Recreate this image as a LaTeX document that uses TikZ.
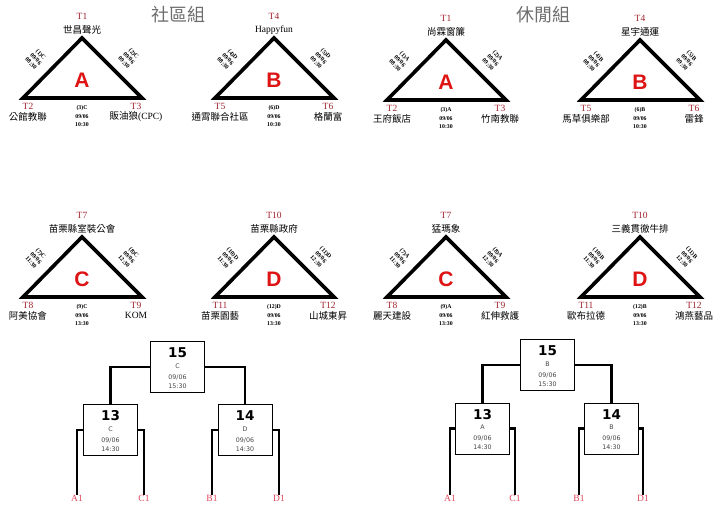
\documentclass[tikz,border=0pt]{standalone}
\usepackage{fontspec}
\setmainfont{Liberation Serif}
\newfontfamily\cjk{Noto Sans CJK TC}
\newfontfamily\boxf{DejaVu Sans}
\newfontfamily\bigf{Liberation Sans}
\usetikzlibrary{calc}
\definecolor{tred}{RGB}{160,35,45}
\definecolor{gred}{RGB}{222,20,20}
\definecolor{lred}{RGB}{225,70,90}
\definecolor{ttl}{RGB}{110,110,110}
\definecolor{sgray}{RGB}{70,70,70}
\tikzset{
  triline/.style={line width=3.6pt},
  tlab/.style={font=\fontsize{9.5}{9.5}\selectfont, text=tred, inner sep=0pt},
  nlab/.style={font=\cjk\fontsize{9.5}{9.5}\selectfont, inner sep=0pt},
  glet/.style={font=\bigf\bfseries\fontsize{21}{21}\selectfont, text=gred, inner sep=0pt},
  elab/.style={font=\bfseries\fontsize{6}{6.6}\selectfont, align=center, inner sep=0pt, rotate=-48},
  blab/.style={font=\bfseries\fontsize{5.8}{8.5}\selectfont, align=center, inner sep=0pt},
  ttlab/.style={font=\cjk\fontsize{18}{18}\selectfont, text=ttl, inner sep=0pt},
  mbox/.style={draw, line width=1pt, minimum width=54pt, minimum height=51pt, inner sep=0pt},
  bnum/.style={font=\boxf\bfseries\fontsize{13.5}{13.5}\selectfont, inner sep=0pt},
  bsm/.style={font=\boxf\fontsize{6.3}{6.3}\selectfont, text=sgray, inner sep=0pt},
  conn/.style={line width=2.3pt},
  leaf/.style={font=\fontsize{9.5}{9.5}\selectfont, text=lred, inner sep=0pt}
}
\newcommand{\mytri}[4]{%
  \draw[triline] ({#2},{#3}) -- ({#2-59},{#3+60}) -- ({#2+60},{#3+60}) -- cycle;
  \node[glet] (#1g) at ({#2},{#3+42}) {#4};}
\newcommand{\toplab}[5]{%
  \node[tlab] (#1tt) at ({#2},{#3-22}) {#4};
  \node[nlab] (#1tn) at ({#2},{#3-8}) {#5};}
\newcommand{\bllab}[5]{%
  \node[tlab] (#1lt) at ({#2-54},{#3+68.5}) {#4};
  \node[nlab] (#1ln) at ({#2-54},{#3+78.5}) {#5};}
\newcommand{\brlab}[5]{%
  \node[tlab] (#1rt) at ({#2+54},{#3+68.5}) {#4};
  \node[nlab] (#1rn) at ({#2+54},{#3+78.5}) {#5};}
\newcommand{\edgelab}[6]{%
  \node[elab] (#1el) at ({#2-46},{#3+21}) {#4};
  \node[elab] (#1er) at ({#2+47},{#3+20}) {#5};
  \node[blab] (#1eb) at ({#2},{#3+78.5}) {#6};}
\newcommand{\mbx}[6]{%
  \node[mbox] (#1) at (#2,#3) {};
  \node[bnum] (#1n) at ($(#1)+(0,-14)$) {#4};
  \node[bsm] (#1c) at ($(#1)+(0,-1)$) {#5};
  \node[bsm] (#1d) at ($(#1)+(0,10)$) {09/06};
  \node[bsm] (#1t) at ($(#1)+(0,19)$) {#6};}
\begin{document}
\begin{tikzpicture}[x=1pt,y=-1pt]
\useasboundingbox[fill=white] (0,0) rectangle (726,511);
% titles
\node[ttlab] (title1) at (178,15) {社區組};
\node[ttlab] (title2) at (543,15) {休閒組};
% community row 1
\mytri{ca}{82}{38}{A}
\toplab{ca}{82}{38}{T1}{世昌聲光}
\bllab{ca}{82}{38}{T2}{公館教聯}
\brlab{ca}{82}{38}{T3}{販油狼{\rmfamily(CPC)}}
\edgelab{ca}{82}{38}{(1)C\\09/06\\08:30}{(2)C\\09/06\\09:30}{(3)C\\09/06\\10:30}
\mytri{cb}{274}{38}{B}
\toplab{cb}{274}{38}{T4}{\rmfamily Happyfun}
\bllab{cb}{274}{38}{T5}{通霄聯合社區}
\brlab{cb}{274}{38}{T6}{格蘭富}
\edgelab{cb}{274}{38}{(4)D\\09/06\\08:30}{(5)D\\09/06\\09:30}{(6)D\\09/06\\10:30}
% leisure row 1
\mytri{la}{446}{40}{A}
\toplab{la}{446}{40}{T1}{尚霖窗簾}
\bllab{la}{446}{40}{T2}{王府飯店}
\brlab{la}{446}{40}{T3}{竹南教聯}
\edgelab{la}{446}{40}{(1)A\\09/06\\08:30}{(2)A\\09/06\\09:30}{(3)A\\09/06\\10:30}
\mytri{lb}{640}{40}{B}
\toplab{lb}{640}{40}{T4}{星宇通運}
\bllab{lb}{640}{40}{T5}{馬草俱樂部}
\brlab{lb}{640}{40}{T6}{雷鋒}
\edgelab{lb}{640}{40}{(4)B\\09/06\\08:30}{(5)B\\09/06\\09:30}{(6)B\\09/06\\10:30}
% community row 2
\mytri{cc}{82}{237}{C}
\toplab{cc}{82}{237}{T7}{苗栗縣室裝公會}
\bllab{cc}{82}{237}{T8}{阿美協會}
\brlab{cc}{82}{237}{T9}{\rmfamily KOM}
\edgelab{cc}{82}{237}{(7)C\\09/06\\11:30}{(8)C\\09/06\\12:30}{(9)C\\09/06\\13:30}
\mytri{cd}{274}{237}{D}
\toplab{cd}{274}{237}{T10}{苗栗縣政府}
\bllab{cd}{274}{237}{T11}{苗栗園藝}
\brlab{cd}{274}{237}{T12}{山城東昇}
\edgelab{cd}{274}{237}{(10)D\\09/06\\11:30}{(11)D\\09/06\\12:30}{(12)D\\09/06\\13:30}
% leisure row 2
\mytri{lc}{446}{237}{C}
\toplab{lc}{446}{237}{T7}{猛瑪象}
\bllab{lc}{446}{237}{T8}{麗天建設}
\brlab{lc}{446}{237}{T9}{紅伸救護}
\edgelab{lc}{446}{237}{(7)A\\09/06\\11:30}{(8)A\\09/06\\12:30}{(9)A\\09/06\\13:30}
\mytri{ld}{640}{237}{D}
\toplab{ld}{640}{237}{T10}{三義貫徹牛排}
\bllab{ld}{640}{237}{T11}{歐布拉德}
\brlab{ld}{640}{237}{T12}{鴻燕藝品}
\edgelab{ld}{640}{237}{(10)B\\09/06\\11:30}{(11)B\\09/06\\12:30}{(12)B\\09/06\\13:30}
% left bracket
\mbx{L15}{177.5}{367}{15}{C}{15:30}
\mbx{L13}{110.5}{430}{13}{C}{14:30}
\mbx{L14}{245}{430}{14}{D}{14:30}
\node[leaf] (LA1) at (77,498) {A1};
\node[leaf] (LC1) at (144,498) {C1};
\node[leaf] (LB1) at (212,498) {B1};
\node[leaf] (LD1) at (279,498) {D1};
\draw[conn] (L15.west) -| (L13.north);
\draw[conn] (L15.east) -| (L14.north);
\draw[conn] (L13.west) -| (LA1.north);
\draw[conn] (L13.east) -| (LC1.north);
\draw[conn] (L14.west) -| (LB1.north);
\draw[conn] (L14.east) -| (LD1.north);
% right bracket
\mbx{R15}{547.5}{365}{15}{B}{15:30}
\mbx{R13}{482.5}{428.5}{13}{A}{14:30}
\mbx{R14}{611.5}{428.5}{14}{B}{14:30}
\node[leaf] (RA1) at (450,498) {A1};
\node[leaf] (RC1) at (515,498) {C1};
\node[leaf] (RB1) at (579,498) {B1};
\node[leaf] (RD1) at (643,498) {D1};
\draw[conn] (R15.west) -| (R13.north);
\draw[conn] (R15.east) -| (R14.north);
\draw[conn] (R13.west) -| (RA1.north);
\draw[conn] (R13.east) -| (RC1.north);
\draw[conn] (R14.west) -| (RB1.north);
\draw[conn] (R14.east) -| (RD1.north);
\end{tikzpicture}
\end{document}
